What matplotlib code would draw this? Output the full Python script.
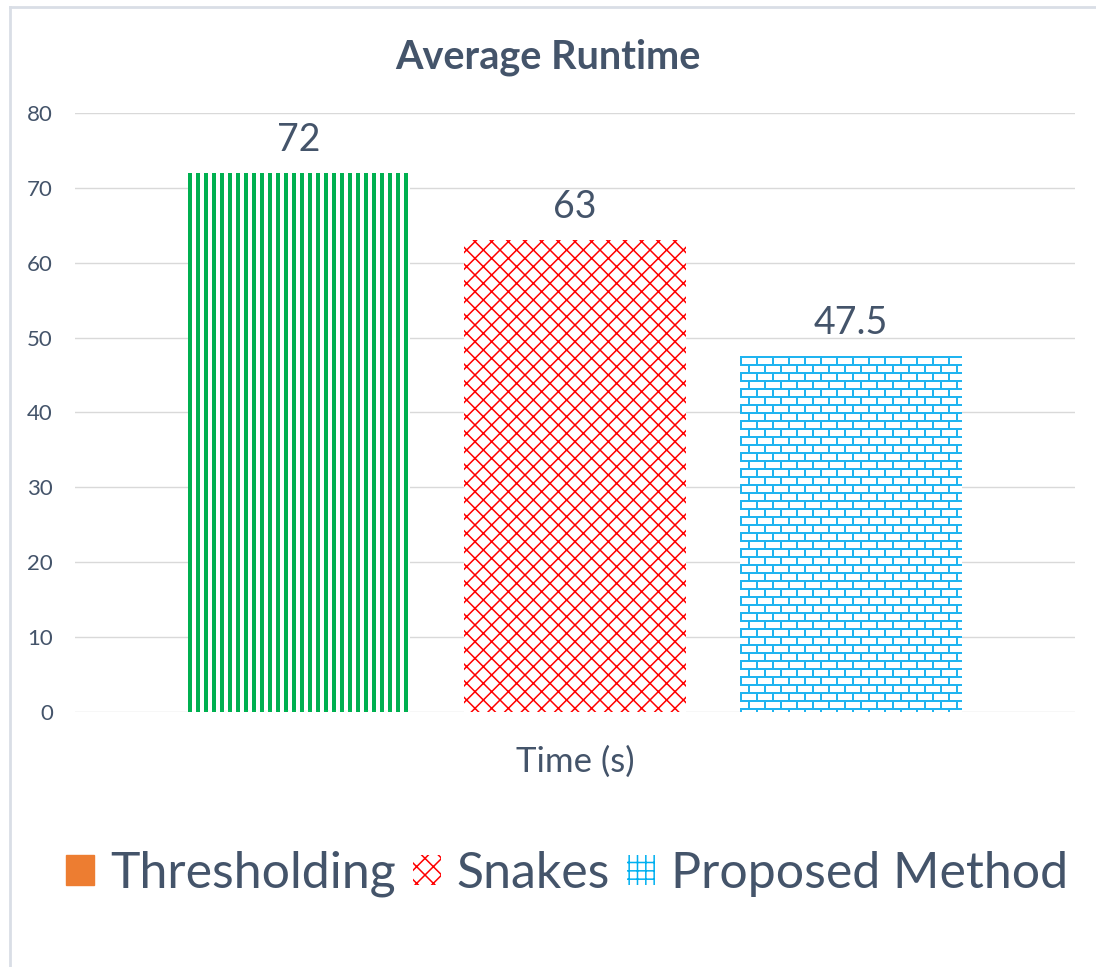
import numpy as np
import matplotlib.pyplot as plt
from matplotlib.patches import Patch
from matplotlib.lines import Line2D

methods = ["Thresholding", "Snakes", "Proposed Method"]
runtime = [72, 63, 47.5]
value_labels = ["72", "63", "47.5"]
yticks = [0, 10, 20, 30, 40, 50, 60, 70, 80]

plt.rcParams['font.family'] = ['Lato', 'DejaVu Sans']
plt.rcParams['hatch.linewidth'] = 1.1
txt = "#44546A"
grid_c = "#D9D9D9"

fig = plt.figure(figsize=(10.96, 9.67), dpi=100)
ax = fig.add_axes([75 / 1096, 1 - 712 / 967, 1000 / 1096, 599 / 967])

xpos = np.arange(len(methods))
width = 0.804
px_per_unit = 599 / 80


def stripes(h, w, rgb):
    t = np.ones((h, w, 3))
    cols = np.arange(w) % 8 < 4
    t[:, cols, :] = rgb
    return t


def bricks(h, w, rgb):
    t = np.ones((h, w, 3))
    for r in range(h):
        row = r // 8
        if r % 8 < 2:
            t[r, :, :] = rgb
            continue
        off = 0 if row % 2 == 0 else 8
        for c in range(w):
            if (c + off) % 16 < 2:
                t[r, c, :] = rgb
    return t


def textured(bars, maker, rgb):
    rect = bars.patches[0]
    h = int(round(rect.get_height() * px_per_unit))
    tile = maker(h, 222, np.array(rgb) / 255.0)
    x0 = rect.get_x()
    im = ax.imshow(tile, extent=[x0, x0 + rect.get_width(), 0, rect.get_height()],
                   aspect="auto", zorder=2.5, interpolation="nearest")
    im.set_clip_path(rect)


b1 = ax.bar(xpos[0], runtime[0], width, facecolor="white", linewidth=0, zorder=2)
b2 = ax.bar(xpos[1], runtime[1], width, facecolor="white", edgecolor="#FF0000",
            hatch="xx", linewidth=0, zorder=2)
b3 = ax.bar(xpos[2], runtime[2], width, facecolor="white", linewidth=0, zorder=2)
textured(b1, stripes, (0x00, 0xB0, 0x50))
textured(b3, bricks, (0x20, 0xB4, 0xF0))

for bars, lab in zip([b1, b2, b3], value_labels):
    r = bars.patches[0]
    ax.text(r.get_x() + r.get_width() / 2, r.get_height() + 2.0, lab,
            ha="center", va="bottom", fontsize=27, color=txt)

ax.set_xlim(-0.812, 2.812)
ax.set_ylim(0, 80)
ax.set_yticks(yticks)
ax.set_xticks([])
ax.tick_params(axis="y", length=0, labelsize=16, pad=16)
for lbl in ax.get_yticklabels():
    lbl.set_color(txt)
ax.grid(axis="y", color=grid_c, linewidth=1, zorder=0)
ax.set_axisbelow(True)
for s in ax.spines.values():
    s.set_visible(False)
ax.set_xlabel("Time (s)", fontsize=25, color=txt, labelpad=24)

fig.text(548 / 1096, 1 - 57 / 967, "Average Runtime", ha="center", va="center",
         fontsize=28.5, fontweight="bold", color=txt)

# legend
handles = [Patch(facecolor="#ED7D31", edgecolor="#ED7D31"),
           Patch(facecolor="white", edgecolor="#FF0000", hatch="xx", linewidth=0),
           Patch(facecolor="white", edgecolor="#00B0F0", hatch="++", linewidth=0)]
fig.legend(handles, methods, loc="center", bbox_to_anchor=(567 / 1096, 1 - 874 / 967),
           ncol=3, frameon=False, fontsize=36, labelcolor=txt,
           handlelength=0.56, handleheight=0.56, handletextpad=0.32, columnspacing=0.34)

# outer chart frame
fig.add_artist(Line2D([10 / 1096, 1], [1 - 7 / 967, 1 - 7 / 967],
                      color="#D9DEE6", linewidth=2, transform=fig.transFigure))
fig.add_artist(Line2D([10 / 1096, 10 / 1096], [0, 1 - 7 / 967],
                      color="#D9DEE6", linewidth=2, transform=fig.transFigure))

fig.savefig("out.png", dpi=100)
